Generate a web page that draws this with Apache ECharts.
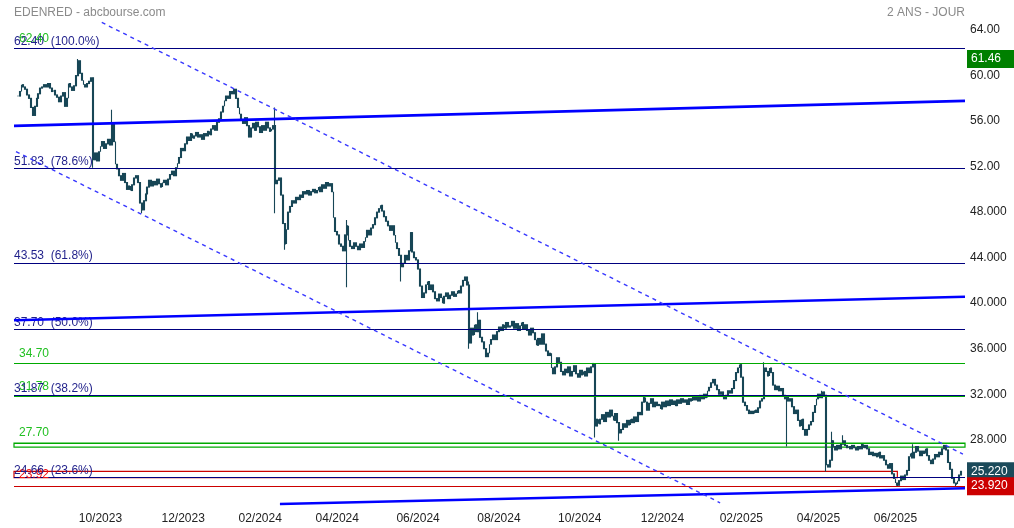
<!DOCTYPE html>
<html><head><meta charset="utf-8">
<script src="https://cdn.jsdelivr.net/npm/echarts@6/dist/echarts.min.js"></script>
<style>html,body{margin:0;padding:0;background:#fff}#c{width:1014px;height:528px}</style>
</head><body><div id="c"></div>
<script>
// ---- data ----
const firstDate = '2023-07-28';
const holidays = ['2023-12-25','2023-12-26','2024-01-01','2024-03-29','2024-04-01','2024-05-01',
  '2024-12-25','2024-12-26','2025-01-01','2025-04-18','2025-04-21','2025-05-01'];
const padBefore = 2, padAfter = 2;
const closes = [
58.2,58.6,59.2,59.0,58.8,58.3,58.0,57.2,56.5,57.3,
58.0,58.4,58.9,59.0,59.2,59.0,59.3,58.9,58.6,58.7,
58.3,58.1,57.7,58.2,58.5,57.3,58.0,59.3,59.0,58.7,
59.1,60.0,61.3,60.2,59.6,59.2,59.0,59.3,59.5,59.8,
52.6,53.2,52.5,53.3,53.8,54.2,53.6,54.0,54.4,53.9,
55.8,54.2,52.2,51.8,51.2,50.8,51.4,50.6,50.0,50.3,
49.9,50.4,51.0,51.2,50.6,48.8,48.2,49.0,49.6,50.2,
50.8,50.3,50.7,50.4,50.9,50.5,50.2,50.6,50.8,50.4,
50.9,51.3,51.6,51.2,51.9,52.3,52.8,53.6,53.4,54.0,
54.6,54.3,54.9,54.5,54.7,55.0,54.6,54.8,54.4,54.9,
54.7,55.1,54.8,55.3,55.6,55.2,55.9,56.2,56.8,57.3,
57.8,58.2,58.0,58.6,58.4,58.8,58.0,57.2,56.6,56.1,
55.8,56.3,55.6,54.6,55.4,55.8,55.2,55.9,55.5,55.0,
55.6,55.2,55.9,55.4,55.1,55.3,55.6,50.5,50.8,51.0,
49.5,47.0,45.2,46.5,48.0,48.5,49.0,48.8,49.3,49.1,
49.5,49.3,49.8,49.6,49.9,49.5,49.8,50.0,49.7,49.9,
50.2,49.8,50.4,50.1,50.6,50.3,50.5,49.8,47.5,46.3,
46.0,45.2,45.0,44.6,46.0,46.8,45.5,45.0,44.8,45.3,
45.0,44.7,45.2,44.9,45.4,45.8,46.4,46.0,46.6,46.9,
47.5,48.0,48.3,48.6,48.1,47.6,47.2,46.8,46.4,46.8,
46.0,45.3,44.8,44.2,43.2,43.5,44.2,43.8,44.6,46.2,
44.5,44.0,43.8,43.0,41.5,40.5,40.9,41.6,41.9,41.2,
41.6,41.0,40.4,40.2,40.8,40.5,40.0,40.6,40.9,40.4,
40.7,41.0,40.6,40.8,41.1,40.9,41.5,42.0,42.3,41.6,
36.5,37.8,37.2,38.1,37.5,38.5,37.0,36.6,36.0,35.3,
35.6,36.4,36.8,37.2,36.8,37.5,37.9,37.6,38.1,37.8,
38.3,37.9,38.0,38.4,37.8,38.2,37.6,38.0,38.3,37.7,
38.1,37.6,37.2,37.8,37.4,36.8,36.3,36.9,36.4,37.3,
36.4,35.8,35.4,35.6,34.3,33.8,34.4,35.2,34.8,34.0,
33.7,34.2,33.9,34.4,33.6,34.0,34.5,33.8,33.5,34.1,
33.7,34.0,33.6,34.3,33.9,34.4,34.7,29.2,29.8,29.4,
29.8,30.2,29.6,30.4,30.0,30.6,30.1,29.7,30.3,29.5,
28.6,28.9,29.4,29.1,29.7,29.3,29.8,29.5,30.0,29.6,
30.4,30.2,31.3,31.7,31.3,30.6,31.2,31.6,30.9,31.3,
31.0,31.1,30.7,31.3,30.9,31.4,31.0,31.5,31.1,31.4,
31.0,31.5,31.2,31.6,31.3,31.5,31.1,31.6,31.4,31.8,
31.5,31.8,31.4,31.9,31.6,32.0,31.7,32.3,32.6,33.0,
33.3,32.8,32.4,32.0,32.2,31.8,31.6,31.9,32.3,32.1,
32.5,33.2,33.9,34.3,34.6,33.5,31.3,31.0,30.6,30.3,
30.5,30.3,30.6,30.4,30.8,31.4,31.6,34.3,34.0,33.6,
34.3,33.9,32.8,32.4,32.7,32.3,32.5,31.9,31.6,31.8,
31.4,31.6,30.9,30.3,30.6,29.7,29.2,29.8,28.9,28.4,
28.9,29.3,29.6,30.4,31.0,31.6,32.0,31.7,32.2,31.9,
25.8,25.6,26.2,27.9,27.4,27.1,27.5,27.2,27.6,27.9,
27.5,27.3,27.4,27.2,27.5,27.3,27.1,27.4,27.2,27.6,
27.3,27.5,27.2,26.7,26.9,26.6,26.8,26.5,26.9,26.4,
26.6,26.2,25.8,25.5,25.9,25.0,24.6,24.2,24.0,24.4,
24.8,24.5,24.9,25.3,26.5,26.8,26.4,26.9,27.4,27.0,
26.6,27.0,26.8,27.2,26.6,26.2,25.9,26.3,26.7,26.5,
26.9,26.7,27.2,27.5,27.1,26.0,25.4,24.6,24.2,24.1,
24.4,24.9,25.22
];
// [bar index, low, high] for bars whose range goes beyond open/close
const wicks = [[32,null,61.46],[40,51.9,null],[50,null,57.0],[66,47.9,null],[137,47.9,57.2],
  [142,44.7,null],[175,41.4,47.3],[204,41.9,null],[240,36.0,41.9],[245,null,39.2],
  [307,28.2,null],[320,27.9,null],[397,null,34.8],[409,27.4,null],[428,null,32.3],
  [430,25.2,null],[433,null,28.7],[439,null,28.4],[468,23.92,null],[476,null,27.6],[499,23.92,null]];
const fibLevels = [62.40, 51.83, 43.53, 37.70, 31.87, 24.66];
const fibPct = ['100.0%', '78.6%', '61.8%', '50.0%', '38.2%', '23.6%'];
const greenLevels = [62.40, 34.70, 31.78, 27.70];
const greenBox = [27.70, 27.35];
const redBox = [25.22, 24.66];
const redBoxEndSlot = 470;
const redLevels = [23.92];
const yTicks = [28, 32, 36, 40, 44, 48, 52, 56, 60, 64];
const badges = [[61.46, '61.46', '#008000'], [25.22, '25.220', '#1b4a5a'], [23.92, '23.920', '#cc0000']];
// trend lines: [slot, price] pairs
const solidLines = [[[0, 55.58], [506, 57.78]], [[0, 38.50], [506, 40.57]], [[141.5, 22.35], [506, 23.73]]];
const dashedLines = [[[46.7, 64.67], [504.9, 26.74]], [[1.06, 53.32], [375.7, 22.46]]];

// ---- build ----
const total = padBefore + closes.length + padAfter;
const dates = [];
{
  const d = new Date(firstDate + 'T12:00:00Z');
  while (dates.length < total) {
    const iso = d.toISOString().slice(0, 10);
    const wd = d.getUTCDay();
    if (wd !== 0 && wd !== 6 && holidays.indexOf(iso) < 0) dates.push(iso);
    d.setUTCDate(d.getUTCDate() + 1);
  }
}
const ohlc = [];
for (let i = 0; i < padBefore; i++) ohlc.push('-');
closes.forEach((c, j) => {
  const o = j ? closes[j - 1] : c;
  let lo = Math.min(o, c), hi = Math.max(o, c);
  wicks.forEach(w => { if (w[0] === j) { if (w[1] != null) lo = Math.min(lo, w[1]); if (w[2] != null) hi = Math.max(hi, w[2]); } });
  ohlc.push([o, c, lo, hi]);
});
for (let i = 0; i < padAfter; i++) ohlc.push('-');

const labelIdx = new Set();
for (let i = 1; i < dates.length; i++) {
  const m = +dates[i].slice(5, 7), pm = +dates[i - 1].slice(5, 7);
  if (m !== pm && m % 2 === 0 && i > 10) labelIdx.add(i);
}

const NAVY = '#00007f', GREEN = '#00aa00', RED = '#cc0000', BAR = '#174656';
const FONT = 'Liberation Sans, Arial';
const mlData = [];
greenLevels.forEach(v => mlData.push({
  yAxis: v, lineStyle: { color: GREEN, width: 1.2, type: 'solid' },
  label: { show: true, position: 'insideStartTop', distance: [5, 4], formatter: v.toFixed(2), color: '#22c022', fontSize: 12, fontFamily: FONT }
}));
redLevels.forEach(v => mlData.push({
  yAxis: v, lineStyle: { color: RED, width: 1.2, type: 'solid' },
  label: { show: true, position: 'insideStartTop', distance: [5, 5], formatter: v.toFixed(2), color: '#ee1111', fontSize: 12, fontFamily: FONT }
}));
fibLevels.forEach((v, k) => mlData.push({
  yAxis: v, lineStyle: { color: NAVY, width: 1.2, type: 'solid' },
  label: { show: true, position: 'insideStartTop', distance: [0, 1], formatter: v.toFixed(2) + '  (' + fibPct[k] + ')', color: '#1f1f8a', fontSize: 12, fontFamily: FONT }
}));
badges.forEach(b => mlData.push({
  yAxis: b[0], lineStyle: { color: 'rgba(0,0,0,0)', width: 1 },
  label: { show: true, position: 'end', distance: 2, formatter: b[1], color: '#fff', backgroundColor: b[2], padding: [3, 5, 2, 4], width: 38, lineHeight: 13, fontSize: 12, fontFamily: FONT }
}));

const series = [
  {
    type: 'candlestick', xAxisIndex: 0, yAxisIndex: 0, data: ohlc, barWidth: 1.4, z: 3,
    itemStyle: { color: BAR, color0: BAR, borderColor: BAR, borderColor0: BAR, borderWidth: 1.1 },
    markLine: { silent: true, symbol: 'none', animation: false, data: mlData }
  },
  {
    type: 'line', xAxisIndex: 1, yAxisIndex: 0, data: [[0, null]], z: 4, symbol: 'none',
    markArea: {
      silent: true, animation: false,
      data: [
        [{ xAxis: 0, yAxis: greenBox[0], itemStyle: { color: 'rgba(0,0,0,0)', borderColor: GREEN, borderWidth: 1.2 } }, { xAxis: 506, yAxis: greenBox[1] }],
        [{ xAxis: 0, yAxis: redBox[0], itemStyle: { color: 'rgba(0,0,0,0)', borderColor: RED, borderWidth: 1.2 } }, { xAxis: redBoxEndSlot, yAxis: redBox[1] }]
      ]
    }
  }
];
solidLines.forEach(l => series.push({ type: 'line', xAxisIndex: 1, yAxisIndex: 0, data: l, symbol: 'none', silent: true, z: 5,
  lineStyle: { color: '#0000ff', width: 2.6 } }));
dashedLines.forEach(l => series.push({ type: 'line', xAxisIndex: 1, yAxisIndex: 0, data: l, symbol: 'none', silent: true, z: 5,
  lineStyle: { color: '#3838ff', width: 1.4, type: [4, 4] } }));

const chart = echarts.init(document.getElementById('c'), null, { renderer: 'canvas' });
chart.setOption({
  animation: false,
  backgroundColor: '#ffffff',
  textStyle: { fontFamily: FONT },
  title: [
    { text: 'EDENRED - abcbourse.com', left: 9, top: 2, textStyle: { fontSize: 12, color: '#8a8a8a', fontWeight: 'normal' } },
    { text: '2 ANS - JOUR', right: 44, top: 2, textStyle: { fontSize: 12, color: '#8a8a8a', fontWeight: 'normal' } }
  ],
  grid: { left: 14, right: 49, top: 13, bottom: 20, containLabel: false },
  xAxis: [
    {
      type: 'category', data: dates, boundaryGap: false,
      axisLine: { show: false }, axisTick: { show: false }, splitLine: { show: false },
      axisLabel: {
        interval: (i) => labelIdx.has(i), margin: 5, color: '#222', fontSize: 12,
        formatter: (v) => v.slice(5, 7) + '/' + v.slice(0, 4)
      }
    },
    { type: 'value', min: 0, max: 506, show: false }
  ],
  yAxis: {
    type: 'value', position: 'right', min: 22, max: 65.5, scale: true,
    axisLine: { show: false }, axisTick: { show: false }, splitLine: { show: false },
    axisLabel: { customValues: yTicks, margin: 5, color: '#222', fontSize: 12,
      formatter: (v) => v >= 52 ? v.toFixed(2) : v.toFixed(3) }
  },
  series: series
});
</script>
</body></html>
